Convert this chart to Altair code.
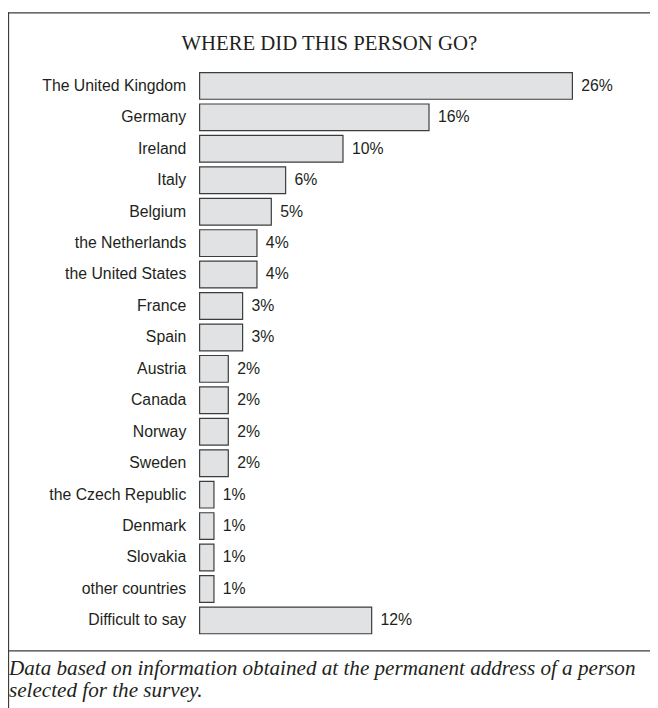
import altair as alt
import pandas as pd

categories = [
    "The United Kingdom", "Germany", "Ireland", "Italy", "Belgium",
    "the Netherlands", "the United States", "France", "Spain", "Austria",
    "Canada", "Norway", "Sweden", "the Czech Republic", "Denmark",
    "Slovakia", "other countries", "Difficult to say",
]
values = [26, 16, 10, 6, 5, 4, 4, 3, 3, 2, 2, 2, 2, 1, 1, 1, 1, 12]
value_labels = [f"{v}%" for v in values]
title_text = "WHERE DID THIS PERSON GO?"
footer_text = ("Data based on information obtained at the permanent address of a person\n"
               "selected for the survey.")

df = pd.DataFrame({"country": categories, "share": values, "label": value_labels})

W, H = 450, 573
TOTAL_H = 700
PAD_L, PAD_T, PAD_R = 194, 58.6, 6
PAD_B = TOTAL_H - PAD_T - H
INK = "#231f20"
LINE = "#3c3c3c"

y = alt.Y(
    "country:N", sort=categories,
    scale=alt.Scale(paddingInner=0.15, paddingOuter=0.075),
    axis=alt.Axis(title=None, ticks=False, domain=False, labelPadding=14,
                  labelFontSize=16, labelFont="Liberation Sans",
                  labelColor=INK, labelLimit=300),
)
x = alt.X("share:Q", scale=alt.Scale(domain=[0, 31], nice=False), axis=None)

bars = alt.Chart(df).mark_bar(fill="#e1e2e4", stroke=LINE, strokeWidth=1.2).encode(x=x, y=y)
labels = alt.Chart(df).mark_text(
    align="left", baseline="middle", dx=9, font="Liberation Sans",
    fontSize=16, color=INK,
).encode(x=x, y=y, text="label:N")

one = pd.DataFrame({"t": [title_text], "f": [footer_text]})

title = alt.Chart(one).mark_text(
    align="center", baseline="alphabetic", font="Liberation Serif",
    fontSize=21, color=INK,
).encode(x=alt.value(131.3), y=alt.value(-20.1), text="t:N")

footer = alt.Chart(one).mark_text(
    align="left", baseline="alphabetic", font="Liberation Serif",
    fontSize=21.4, fontStyle="italic", color=INK, lineBreak="\n", lineHeight=22,
).encode(x=alt.value(-193), y=alt.value(612.6), text="f:N")

top_rule = alt.Chart(one).mark_rule(color=LINE, strokeWidth=1.3).encode(
    x=alt.value(-194), x2=alt.value(470), y=alt.value(-58.1))
left_rule = alt.Chart(one).mark_rule(color=LINE, strokeWidth=1.3).encode(
    x=alt.value(-193.5), y=alt.value(-58.6), y2=alt.value(650))
sep_rule = alt.Chart(one).mark_rule(color=LINE, strokeWidth=1.3).encode(
    x=alt.value(-194), x2=alt.value(470), y=alt.value(587.9))

chart = alt.layer(bars, labels, title, footer, top_rule, left_rule, sep_rule).properties(
    width=W, height=H,
    autosize=alt.AutoSizeParams(type="none"),
    padding={"left": PAD_L, "top": PAD_T, "right": PAD_R, "bottom": PAD_B},
    background="white",
).configure_view(stroke=None)

chart.save("out.html", embed_options={"renderer": "svg", "actions": False})
